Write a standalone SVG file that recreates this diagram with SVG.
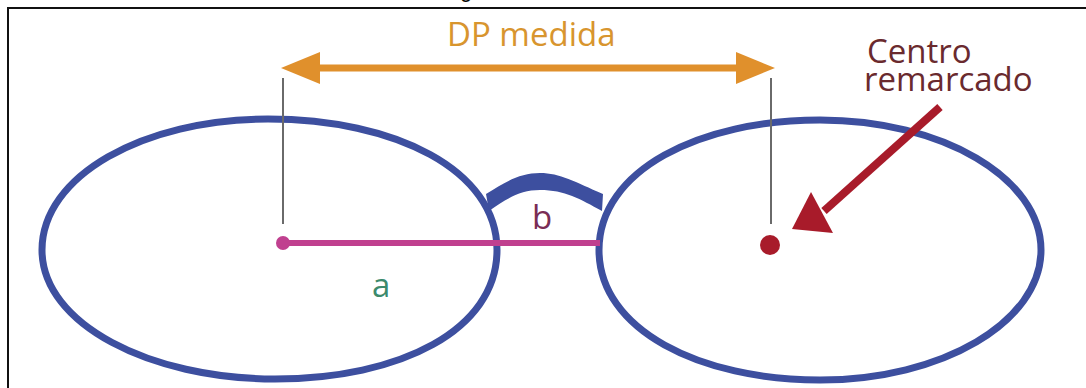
<svg xmlns="http://www.w3.org/2000/svg" width="1086" height="388" viewBox="0 0 1086 388">
<style>
.lbl{font-family:"Open Sans","Noto Sans","Liberation Sans",sans-serif;font-size:33px}
.lens{fill:none;stroke:#3d4f9f;stroke-width:7}
.guide{stroke:#6a6a6a;stroke-width:2}
.orange{fill:#e0902c}
.red{fill:#a81b2a}
</style>
<rect width="1086" height="388" fill="#fff"/>
<path d="M8,388 V8 H1086" fill="none" stroke="#111" stroke-width="2"/>
<text x="460" y="-3" style="font-family:'Liberation Sans',sans-serif;font-size:22px" fill="#000">g</text>
<g id="frame">
<path class="lens" d="M42,250 C42,176 143,119 268,119 C395,119 497,170 497,250 C497,330 400,379 275,379 C150,379 42,324 42,250 Z"/>
<path class="lens" d="M599,250 C599,170 700,120 820,120 C942,120 1041,178 1041,250 C1041,322 942,380 820,380 C700,380 599,330 599,250 Z"/>
<path d="M486,194 C505,182 520,173 540,173 C560,173 575,182 603,194 L602,211 C580,199 565,190 540,190 C520,190 506,199 489,211 Z" fill="#3d4f9f"/>
</g>
<g id="connectors">
<line class="guide" x1="283" y1="78" x2="283" y2="224"/>
<line class="guide" x1="771" y1="78" x2="771" y2="224"/>
<g id="dp-arrow">
<line x1="315" y1="68" x2="742" y2="68" stroke="#e0902c" stroke-width="7"/>
<polygon class="orange" points="281,68 320,52 320,84"/>
<polygon class="orange" points="775,68 736,52 736,84"/>
</g>
<line x1="283" y1="243" x2="600" y2="243" stroke="#c0408f" stroke-width="6"/>
<g id="centro-arrow">
<line x1="940" y1="107" x2="824" y2="211" stroke="#a81b2a" stroke-width="8"/>
<polygon class="red" points="792,229 811,192 833,233"/>
</g>
</g>
<g id="point-left"><circle cx="283" cy="243" r="7" fill="#c0408f"/></g>
<g id="point-right"><circle cx="770" cy="245" r="10" fill="#a81b2a"/></g>
<g id="label-dp"><text class="lbl" x="447" y="46" fill="#d8952e">DP medida</text></g>
<g id="label-centro"><text class="lbl" x="867" y="63" fill="#6a2a2e">Centro</text><text class="lbl" x="864" y="91" fill="#6a2a2e">remarcado</text></g>
<g id="label-b"><text class="lbl" x="532" y="229" fill="#7a2d55">b</text></g>
<g id="label-a"><text class="lbl" x="372" y="297" fill="#3c8a6c">a</text></g>
</svg>
